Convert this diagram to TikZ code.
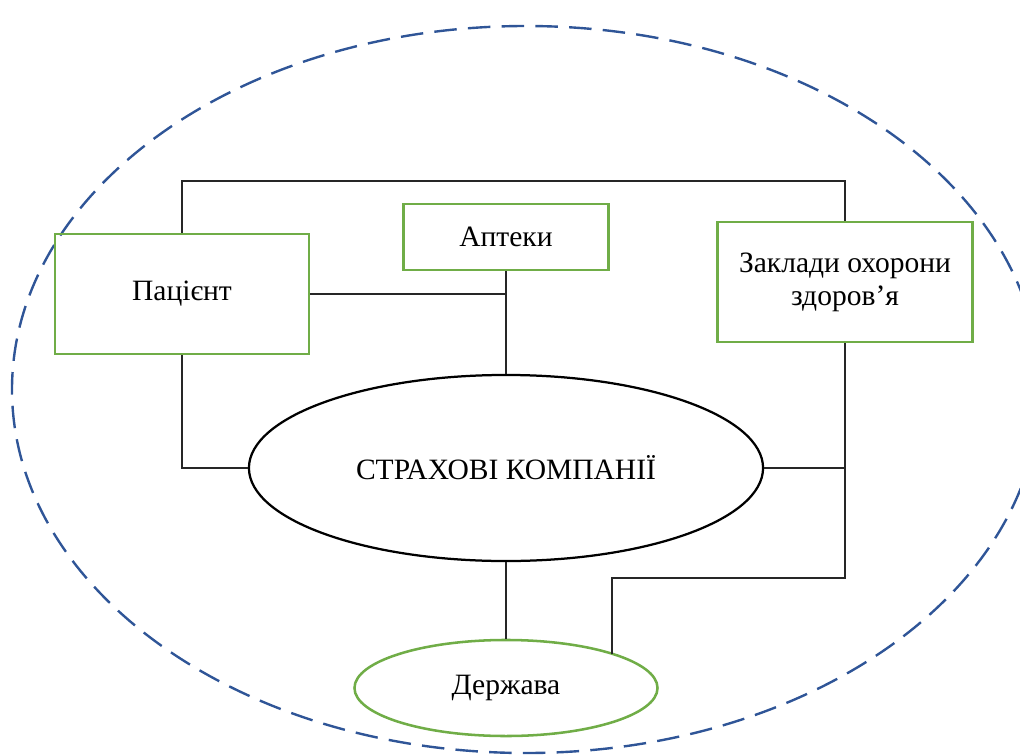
\documentclass[tikz,border=0pt]{standalone}
\usepackage{fontspec}
\setmainfont{Liberation Serif}
\usepackage{tikz}
\usetikzlibrary{positioning,shapes.geometric,calc}

\definecolor{boxgreen}{RGB}{112,173,71}
\definecolor{dashblue}{RGB}{47,85,151}

\begin{document}
\begin{tikzpicture}[
    x=0.025cm, y=-0.025cm,
    font=\fontsize{21}{23.5}\selectfont,
    party/.style={rectangle, draw=boxgreen, line width=1.8pt, align=center, inner sep=0pt},
    mainnode/.style={ellipse, draw=black, line width=1.6pt, inner sep=0pt, minimum width=12.85cm, minimum height=4.65cm},
    statenode/.style={ellipse, draw=boxgreen, line width=1.8pt, inner sep=0pt, minimum width=7.575cm, minimum height=2.4cm},
    link/.style={draw=black!85, line width=0.8pt}
]
\useasboundingbox (0,0) rectangle (1020,756);
\clip (0,0) rectangle (1020,756);

% Rows
\def\yTop{181}
\def\yStep{578}

% Outer boundary
\draw[dashblue, line width=1.7pt, dash pattern=on 16pt off 8pt] (526,389.5) ellipse [x radius=514, y radius=363.5];

% Participants
\node[party, minimum width=6.35cm, minimum height=3cm] (pat) at (182,294) {Пацієнт};
\node[party, minimum width=5.125cm, minimum height=1.65cm] (apt) at (506,237) {Аптеки};
\node[party, minimum width=6.375cm, minimum height=3cm] (zak) at (845,282) {Заклади охорони\\здоров’я};
\node[mainnode] (sk) at (506,468) {СТРАХОВІ КОМПАНІЇ};
\node[statenode] (dv) at (506,688) {Держава};

% Junctions
\coordinate (tR) at (zak.north |- 0,\yTop);
\coordinate (jA) at (apt.south |- pat.east);
\coordinate (jZ) at (zak.south |- sk.east);
\coordinate (dvT) at (612,\yStep);

% Links
\draw[link] (pat.north) |- (tR) -- (zak.north);
\draw[link] (pat.east) -- (jA);
\draw[link] (apt.south) -- (sk.north);
\draw[link] (pat.south) |- (sk.west);
\draw[link] (sk.east) -- (jZ);
\draw[link] (zak.south) |- (dvT) -- (dvT |- dv.17);
\draw[link] (sk.south) -- (dv.north);
\end{tikzpicture}
\end{document}
